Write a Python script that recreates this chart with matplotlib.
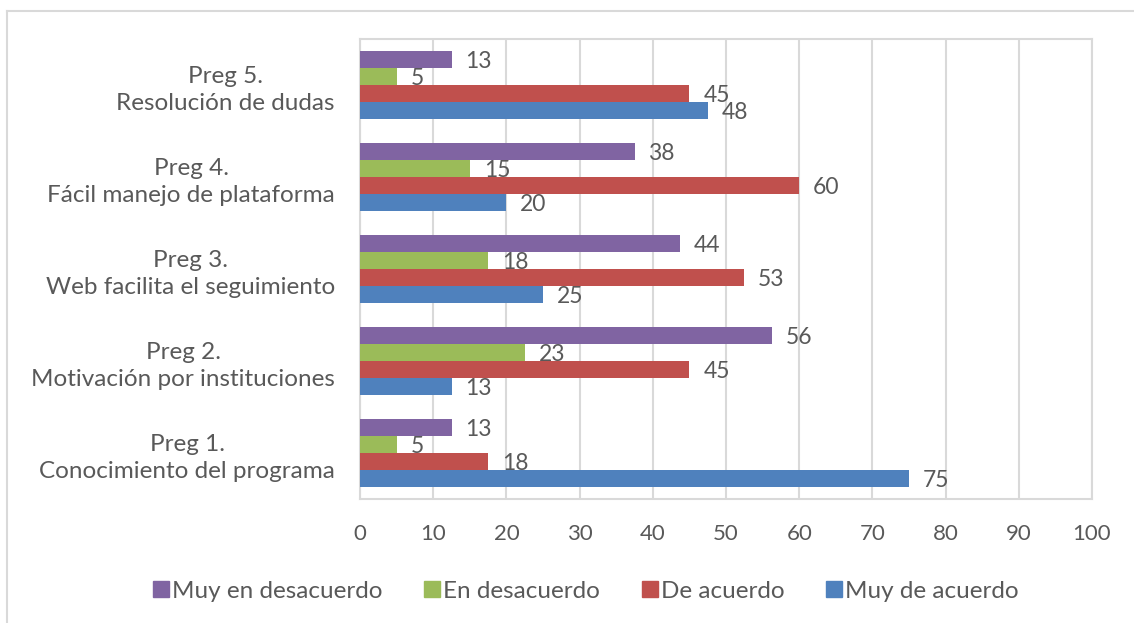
import math
import matplotlib
matplotlib.use("Agg")
import matplotlib.pyplot as plt
import numpy as np
from matplotlib.lines import Line2D

plt.rcParams['font.family'] = ['Lato', 'DejaVu Sans']

categories = ["Preg 1.\nConocimiento del programa",
              "Preg 2.\nMotivación por instituciones",
              "Preg 3.\nWeb facilita el seguimiento",
              "Preg 4.\nFácil manejo de plataforma",
              "Preg 5.\nResolución de dudas"]
series_names = ["Muy en desacuerdo", "En desacuerdo", "De acuerdo", "Muy de acuerdo"]
muy_en_desacuerdo = [12.5, 56.25, 43.75, 37.5, 12.5]
en_desacuerdo = [5, 22.5, 17.5, 15, 5]
de_acuerdo = [17.5, 45, 52.5, 60, 45]
muy_de_acuerdo = [75, 12.5, 25, 20, 47.5]
colors = ["#8064a2", "#9bbb59", "#c0504d", "#4f81bd"]
xticks = [0, 10, 20, 30, 40, 50, 60, 70, 80, 90, 100]

W, H = 1134, 623
fig = plt.figure(figsize=(W / 100, H / 100), dpi=100)
ax = fig.add_axes([360 / W, 1 - 499 / H, (1092 - 360) / W, (499 - 39) / H])

text_col = "#595959"
grid_col = "#d9d9d9"
data = [muy_en_desacuerdo, en_desacuerdo, de_acuerdo, muy_de_acuerdo]
y = np.arange(len(categories))
h = 0.185
offsets = [1.5 * h, 0.5 * h, -0.5 * h, -1.5 * h]
for vals, col, off, name in zip(data, colors, offsets, series_names):
    bars = ax.barh(y + off, vals, height=h, color=col, label=name, zorder=3)
    labels = [str(int(math.floor(v + 0.5))) for v in vals]
    texts = ax.bar_label(bars, labels=labels, padding=10, fontsize=16.5, color=text_col)
    for t in texts:
        t.set_va('center_baseline')

ax.set_xlim(0, 100)
ax.set_ylim(-0.5, len(categories) - 0.5)
ax.set_xticks(xticks)
ax.set_xticklabels([str(t) for t in xticks], fontsize=16, color=text_col)
ax.set_yticks(y)
ax.set_yticklabels(categories, fontsize=17.5, color=text_col,
                   multialignment='center', linespacing=1.35)
ax.tick_params(axis='both', length=0)
ax.tick_params(axis='x', pad=18)
ax.tick_params(axis='y', pad=18)
ax.grid(axis='x', color=grid_col, linewidth=1.5, zorder=0)
for s in ax.spines.values():
    s.set_color(grid_col)
    s.set_linewidth(1.5)

handles = [Line2D([0], [0], marker='s', linestyle='none', markersize=11,
                  markerfacecolor=c, markeredgecolor=c) for c in colors]
fig.legend(handles, series_names, loc='center', bbox_to_anchor=(585 / W, 1 - 591 / H),
           ncol=4, frameon=False, fontsize=17.5, labelcolor=text_col,
           handletextpad=0.05, columnspacing=1.65, handlelength=0.8)

# outer chart border (top and left visible)
fig.add_artist(Line2D([7 / W, 7 / W], [0, 1 - 11 / H], transform=fig.transFigure,
                      color=grid_col, linewidth=1.5))
fig.add_artist(Line2D([7 / W, 1], [1 - 11 / H, 1 - 11 / H], transform=fig.transFigure,
                      color=grid_col, linewidth=1.5))

fig.savefig("out.png", dpi=100, facecolor="white")
